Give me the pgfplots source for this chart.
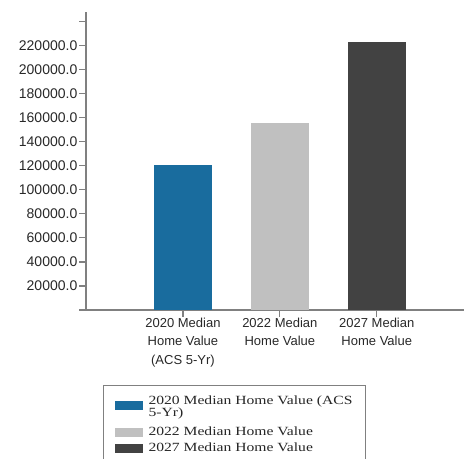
\documentclass[border=0pt]{standalone}
\usepackage{pgfplots}
\pgfplotsset{compat=1.18}
\usepackage{fontspec}
\setmainfont{Liberation Sans}
\newfontfamily\legendfont[FakeStretch=1.25]{Liberation Serif}
\definecolor{bartwenty}{RGB}{25,108,158}
\definecolor{bartwentytwo}{RGB}{192,192,192}
\definecolor{bartwentyseven}{RGB}{66,66,66}
\definecolor{axisgray}{RGB}{128,128,128}
\definecolor{labelgray}{RGB}{40,40,40}

% legend sample of the two-line entry, raised to sit between its lines
\pgfplotsset{
  raised bar sample/.style={
    legend image code/.code={\fill[##1,draw=none] (0bp,-1.5bp) rectangle (28bp,7.5bp);}
  },
}

\begin{document}
\begin{tikzpicture}[x=1bp,y=1bp]
\useasboundingbox (0,0) rectangle (464,459);
\begin{axis}[
  at={(86bp,149bp)}, anchor=south west,
  scale only axis, width=378bp, height=298bp,
  xmin=0, xmax=3.9, ymin=0, ymax=248000,
  scaled y ticks=false,
  axis x line*=bottom, axis y line*=left,
  axis line style={axisgray, line width=1.5bp},
  every tick/.style={axisgray, line width=1.2bp},
  tick align=outside, major tick length=7bp,
  xtick={1,2,3},
  xticklabels={{2020 Median\\Home Value\\(ACS 5-Yr)},{2022 Median\\Home Value},{2027 Median\\Home Value}},
  xticklabel style={align=center, font=\fontsize{13bp}{18.5bp}\selectfont, text=labelgray, inner sep=0.5bp},
  ytick={0,20000,...,240000},
  yticklabels={,20000.0,40000.0,60000.0,80000.0,100000.0,120000.0,140000.0,160000.0,180000.0,200000.0,220000.0,},
  yticklabel style={font=\fontsize{14bp}{15bp}\selectfont, text=labelgray, inner sep=1.5bp},
  % flat rectangle as the legend sample of each bar series
  legend image code/.code={\fill[#1,draw=none] (0bp,-4.5bp) rectangle (28bp,4.5bp);},
  legend cell align=left,
  legend style={at={(axis description cs:0.045,-0.2517)}, anchor=north west,
    draw=axisgray, line width=1bp, inner xsep=11bp, inner ysep=8bp,
    font=\legendfont\fontsize{12.5bp}{12.5bp}\selectfont, text=black!85,
    row sep=2bp,
    /tikz/every odd column/.append style={column sep=4bp}},
]
\addplot[ybar, bar width=58bp, bar shift=0pt, fill=bartwenty, draw=none, raised bar sample]
  coordinates {(1,121000)};
\addlegendentry{\begin{tabular}[c]{@{}l@{}}2020 Median Home Value (ACS\\5-Yr)\rule[-21bp]{0pt}{1bp}\end{tabular}}
\addplot[ybar, bar width=58bp, bar shift=0pt, fill=bartwentytwo, draw=none] coordinates {(2,156000)};
\addlegendentry{2022 Median Home Value}
\addplot[ybar, bar width=58bp, bar shift=0pt, fill=bartwentyseven, draw=none] coordinates {(3,223000)};
\addlegendentry{2027 Median Home Value}
\end{axis}
\end{tikzpicture}
\end{document}
